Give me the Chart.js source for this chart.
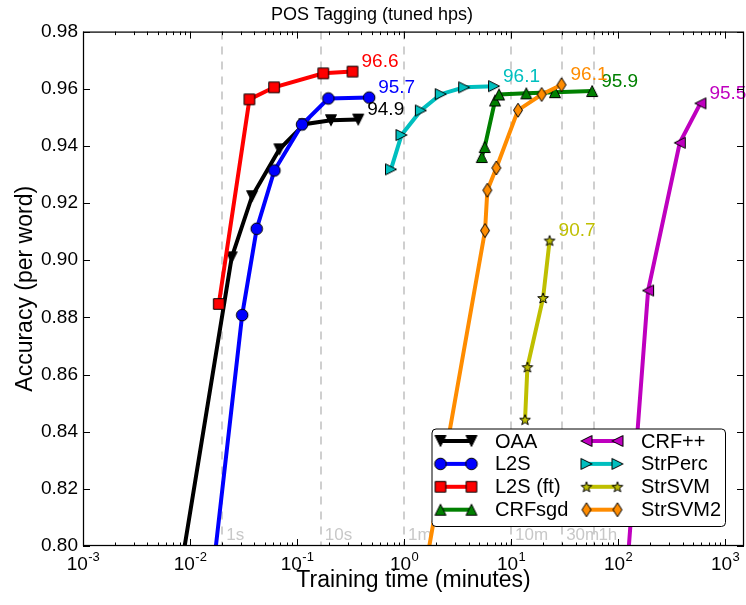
<!DOCTYPE html>
<html>
<head>
<meta charset="utf-8">
<script src="https://cdn.jsdelivr.net/npm/chart.js@4.4.1/dist/chart.umd.min.js"></script>
<style>
  html, body { margin: 0; padding: 0; background: #fff; }
</style>
</head>
<body>
<canvas id="chart" width="746" height="605"></canvas>
<script>
// training time in minutes / accuracy per word
const seriesNames = ["OAA", "L2S", "L2S (ft)", "CRFsgd", "CRF++", "StrPerc", "StrSVM", "StrSVM2"];
const oaaTime = [0.0054, 0.0245, 0.038, 0.0684, 0.117, 0.2075, 0.373];
const oaaAcc = [0.75, 0.901, 0.9224, 0.9388, 0.9476, 0.949, 0.9492];
const l2sTime = [0.0123, 0.0307, 0.042, 0.0614, 0.1113, 0.196, 0.472];
const l2sAcc = [0.75, 0.8808, 0.911, 0.9314, 0.9475, 0.9566, 0.9569];
const l2sFtTime = [0.01857, 0.0359, 0.061, 0.1759, 0.33];
const l2sFtAcc = [0.8847, 0.9563, 0.9605, 0.9654, 0.966];
const crfSgdTime = [5.32, 5.67, 7.08, 7.71, 13.87, 25.7, 57.2];
const crfSgdAcc = [0.9361, 0.9396, 0.9559, 0.958, 0.9584, 0.9588, 0.9592];
const crfppTime = [100, 190.5, 376.6, 587];
const crfppAcc = [0.75, 0.8894, 0.9411, 0.9549];
const strPercTime = [0.754, 0.946, 1.435, 2.2, 3.64, 6.93];
const strPercAcc = [0.9318, 0.9438, 0.9524, 0.9581, 0.9605, 0.9609];
const strSvmTime = [13.5, 14.2, 19.9, 22.9];
const strSvmAcc = [0.8442, 0.8626, 0.8868, 0.9069];
const strSvm2Time = [1.0, 5.71, 6.0, 7.28, 11.6, 19.3, 29.6];
const strSvm2Acc = [0.75, 0.9104, 0.9245, 0.9323, 0.9525, 0.958, 0.9614];
const finalLabels = ["94.9", "95.7", "96.6", "95.9", "95.5", "96.1", "90.7", "96.1"];

// reference times (minutes) shown as dashed lines
const markTimes = [0.02, 0.1667, 1, 10, 30, 60];
const markLabels = ["1s", "10s", "1m", "10m", "30m", "1h"];

const times = [oaaTime, l2sTime, l2sFtTime, crfSgdTime, crfppTime, strPercTime, strSvmTime, strSvm2Time];
const accs = [oaaAcc, l2sAcc, l2sFtAcc, crfSgdAcc, crfppAcc, strPercAcc, strSvmAcc, strSvm2Acc];
const colors = ["#000000", "#0000ff", "#ff0000", "#008000", "#bf00bf", "#00bfbf", "#bfbf00", "#ff8c00"];
const shapes = ["tri_down", "circle", "square", "tri_up", "tri_left", "tri_right", "star", "thin_diamond"];

const family = "'Liberation Sans', Arial, Helvetica, sans-serif";
Chart.defaults.font.family = family;
Chart.defaults.color = "#000";

function makeMarker(shape, fill) {
  const s = 18, m = s / 2, h = 5.5;
  const c = document.createElement("canvas");
  c.width = s; c.height = s;
  const g = c.getContext("2d");
  g.fillStyle = fill;
  g.strokeStyle = "#000";
  g.lineWidth = 1;
  g.beginPath();
  if (shape === "circle") {
    g.arc(m, m, 5.8, 0, Math.PI * 2);
  } else if (shape === "square") {
    g.rect(m - 5.3, m - 5.3, 10.6, 10.6);
  } else if (shape === "tri_up") {
    g.moveTo(m, m - h); g.lineTo(m + h, m + h); g.lineTo(m - h, m + h);
  } else if (shape === "tri_down") {
    g.moveTo(m, m + h); g.lineTo(m + h, m - h); g.lineTo(m - h, m - h);
  } else if (shape === "tri_left") {
    g.moveTo(m - h, m); g.lineTo(m + h, m - h); g.lineTo(m + h, m + h);
  } else if (shape === "tri_right") {
    g.moveTo(m + h, m); g.lineTo(m - h, m - h); g.lineTo(m - h, m + h);
  } else if (shape === "star") {
    for (let k = 0; k < 10; k++) {
      const r = k % 2 === 0 ? 5.6 : 2.3;
      const ang = -Math.PI / 2 + k * Math.PI / 5;
      const px = m + r * Math.cos(ang), py = m + 0.5 + r * Math.sin(ang);
      if (k === 0) g.moveTo(px, py); else g.lineTo(px, py);
    }
  } else if (shape === "thin_diamond") {
    g.moveTo(m, m - 7); g.lineTo(m + 4.5, m); g.lineTo(m, m + 7); g.lineTo(m - 4.5, m);
  }
  g.closePath();
  g.fill();
  g.stroke();
  return c;
}

const markers = shapes.map((s, i) => makeMarker(s, colors[i]));

const decor = {
  id: "decor",
  beforeDatasetsDraw(chart) {
    const { ctx, chartArea: a, scales: { x } } = chart;
    ctx.save();
    ctx.strokeStyle = "#cfcfcf";
    ctx.lineWidth = 2;
    ctx.setLineDash([8, 7]);
    markTimes.forEach((t) => {
      const px = Math.round(x.getPixelForValue(t));
      ctx.beginPath();
      ctx.moveTo(px, a.top);
      ctx.lineTo(px, a.bottom);
      ctx.stroke();
    });
    ctx.setLineDash([]);
    ctx.fillStyle = "#c8c8c8";
    ctx.font = "17px " + family;
    ctx.textAlign = "left";
    ctx.textBaseline = "middle";
    markTimes.forEach((t, i) => {
      ctx.fillText(markLabels[i], x.getPixelForValue(t) + 4, a.bottom - 11);
    });
    ctx.restore();
  },
  afterDatasetsDraw(chart) {
    const { ctx } = chart;
    ctx.save();
    ctx.font = "19px " + family;
    ctx.textAlign = "left";
    ctx.textBaseline = "middle";
    chart.data.datasets.forEach((ds, i) => {
      const pts = chart.getDatasetMeta(i).data;
      const last = pts[pts.length - 1];
      ctx.fillStyle = colors[i];
      ctx.fillText(finalLabels[i], last.x + 9, last.y - 9.5);
    });
    ctx.restore();
  },
  afterDraw(chart) {
    const { ctx, chartArea: a, scales: { x, y } } = chart;
    ctx.save();
    // frame
    ctx.strokeStyle = "#000";
    ctx.lineWidth = 1.25;
    ctx.strokeRect(a.left + 0.5, a.top + 0.5, a.right - a.left - 1, a.bottom - a.top - 1);
    // x ticks, log decades with minor ticks
    ctx.lineWidth = 1;
    ctx.beginPath();
    for (let e = -3; e <= 3; e++) {
      for (let k = 1; k <= 9; k++) {
        const v = k * Math.pow(10, e);
        if (v > x.max) break;
        const px = Math.round(x.getPixelForValue(v)) + 0.5;
        const len = k === 1 ? 7 : 3.5;
        ctx.moveTo(px, a.bottom); ctx.lineTo(px, a.bottom - len);
        ctx.moveTo(px, a.top); ctx.lineTo(px, a.top + len);
      }
    }
    y.ticks.forEach((t) => {
      const py = Math.round(y.getPixelForValue(t.value)) + 0.5;
      ctx.moveTo(a.left, py); ctx.lineTo(a.left + 7, py);
      ctx.moveTo(a.right, py); ctx.lineTo(a.right - 7, py);
    });
    ctx.stroke();
    // x tick labels as 10^e
    ctx.fillStyle = "#000";
    ctx.textBaseline = "alphabetic";
    ctx.textAlign = "left";
    for (let e = -3; e <= 3; e++) {
      const px = x.getPixelForValue(Math.pow(10, e));
      const exp = e < 0 ? "-" + (-e) : String(e);
      ctx.font = "19px " + family;
      const wb = ctx.measureText("10").width;
      ctx.font = "13px " + family;
      const we = ctx.measureText(exp).width;
      const left = px - (wb + we) / 2;
      ctx.font = "19px " + family;
      ctx.fillText("10", left, 570);
      ctx.font = "13px " + family;
      ctx.fillText(exp, left + wb + 0.5, 561);
    }
    // legend
    const bw = 293.5, bh = 97.5;
    const bx = a.right - 19 - bw, by = a.bottom - 20 - bh;
    ctx.beginPath();
    if (ctx.roundRect) ctx.roundRect(bx + 0.5, by + 0.5, bw, bh, 4);
    else ctx.rect(bx + 0.5, by + 0.5, bw, bh);
    ctx.fillStyle = "#fff";
    ctx.fill();
    ctx.strokeStyle = "#000";
    ctx.lineWidth = 1;
    ctx.stroke();
    ctx.font = "20px " + family;
    ctx.textBaseline = "middle";
    seriesNames.forEach((name, i) => {
      const col = i < 4 ? 0 : 1, row = i % 4;
      const x0 = bx + 9 + col * 146;
      const x1 = x0 + 31;
      const ly = by + 12.5 + row * 22.9;
      ctx.strokeStyle = colors[i];
      ctx.lineWidth = 4;
      ctx.beginPath();
      ctx.moveTo(x0, ly); ctx.lineTo(x1, ly);
      ctx.stroke();
      const mk = markers[i];
      ctx.drawImage(mk, x0 - mk.width / 2, ly - mk.height / 2);
      ctx.drawImage(mk, x1 - mk.width / 2, ly - mk.height / 2);
      ctx.fillStyle = "#000";
      ctx.fillText(name, x0 + 54.5, ly + 1);
    });
    ctx.restore();
  }
};

new Chart(document.getElementById("chart"), {
  type: "line",
  data: {
    datasets: seriesNames.map((name, i) => ({
      label: name,
      data: times[i].map((t, j) => ({ x: t, y: accs[i][j] })),
      borderColor: colors[i],
      backgroundColor: colors[i],
      borderWidth: 4,
      pointStyle: markers[i],
      pointRadius: 6,
      pointHoverRadius: 6,
      tension: 0,
      clip: 0,
      order: seriesNames.length - i,
    })),
  },
  options: {
    responsive: false,
    animation: false,
    layout: { autoPadding: false, padding: { right: 2 } },
    plugins: {
      legend: { display: false },
      tooltip: { enabled: false },
      title: {
        display: true,
        text: "POS Tagging (tuned hps)",
        font: { size: 18, weight: "normal" },
        color: "#000",
        padding: { top: 4, bottom: 6 },
      },
    },
    scales: {
      x: {
        type: "logarithmic",
        min: 0.001,
        max: 1500,
        grid: { display: false, drawTicks: false },
        border: { display: false },
        ticks: { display: false },
        afterFit: (s) => { s.height = 59; },
        title: {
          display: true,
          text: "Training time (minutes)",
          font: { size: 23 },
          color: "#000",
          padding: { top: 0, bottom: 11 },
        },
      },
      y: {
        type: "linear",
        min: 0.8,
        max: 0.98,
        grid: { display: false, drawTicks: false },
        border: { display: false },
        ticks: {
          stepSize: 0.02,
          padding: 5,
          font: { size: 19 },
          color: "#000",
          callback: (v) => v.toFixed(2),
        },
        afterFit: (s) => { s.width = 83; },
        title: {
          display: true,
          text: "Accuracy (per word)",
          font: { size: 23 },
          color: "#000",
          padding: { top: 12 },
        },
      },
    },
  },
  plugins: [decor],
});
</script>
</body>
</html>
